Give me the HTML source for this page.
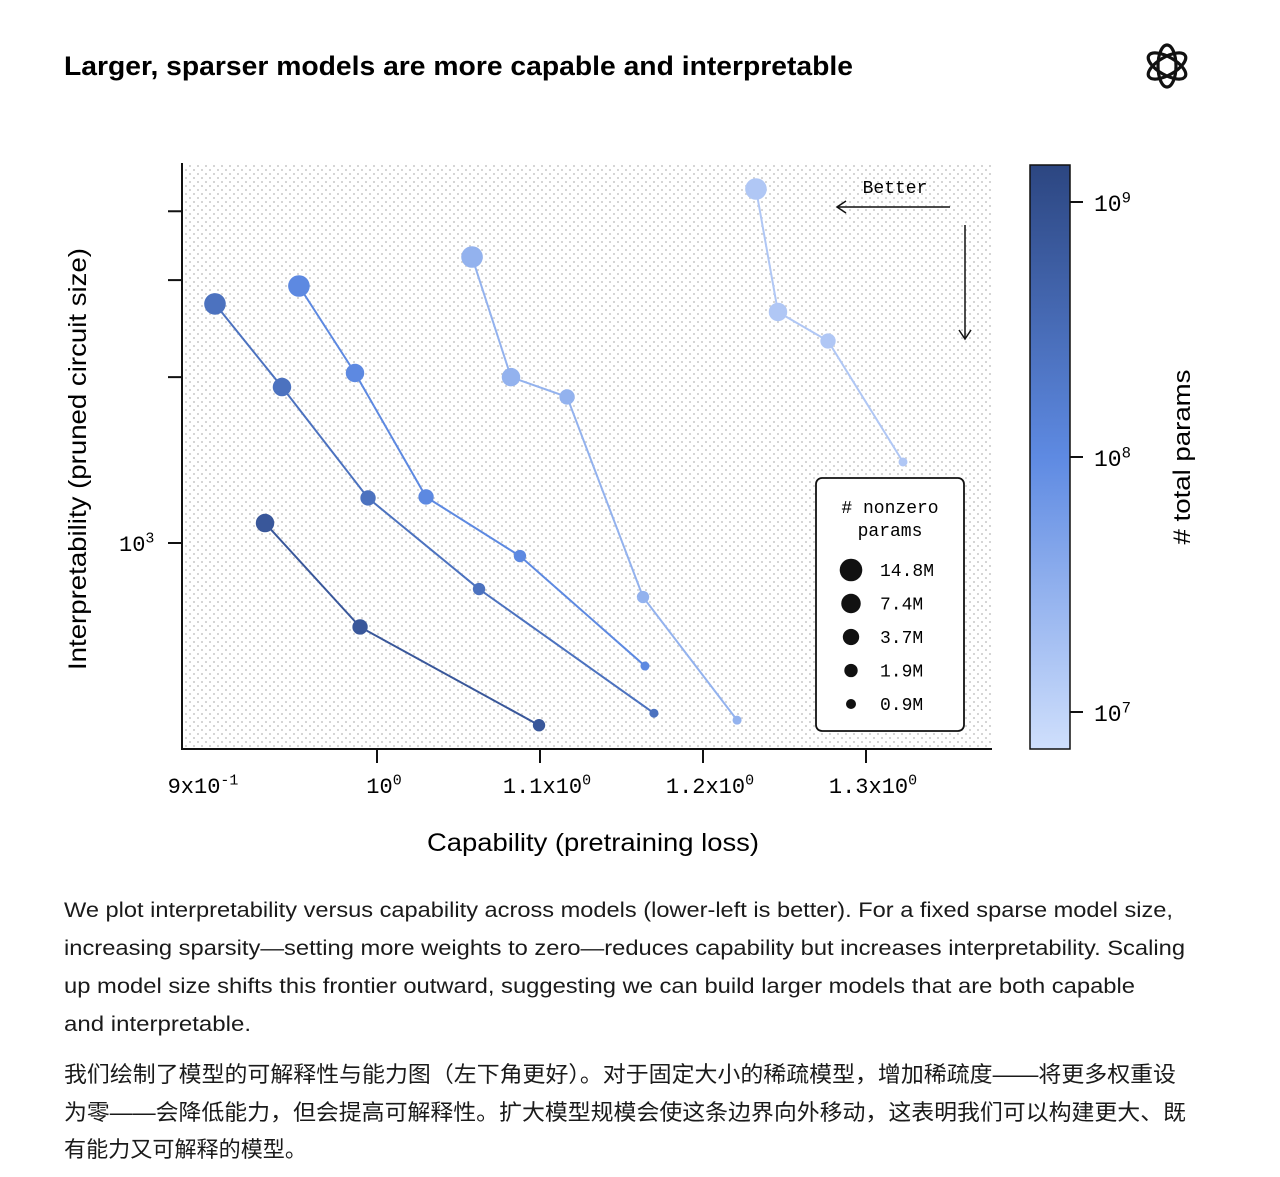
<!DOCTYPE html>
<html><head><meta charset="utf-8"><style>
body{margin:0;background:#fff;width:1280px;height:1177px;overflow:hidden;font-family:"Liberation Sans","Noto Sans CJK SC",sans-serif;color:#111}
svg text{font-family:"Liberation Sans","Noto Sans CJK SC",sans-serif}
</style></head><body>
<svg width="1280" height="1177" style="position:absolute;left:0;top:0">
<text x="64" y="75" font-size="27" font-weight="bold" textLength="789" lengthAdjust="spacingAndGlyphs">Larger, sparser models are more capable and interpretable</text>
<g font-size="21" fill="#1a1a1a">
<text x="64" y="917" textLength="1109" lengthAdjust="spacingAndGlyphs">We plot interpretability versus capability across models (lower-left is better). For a fixed sparse model size,</text>
<text x="64" y="955" textLength="1121" lengthAdjust="spacingAndGlyphs">increasing sparsity—setting more weights to zero—reduces capability but increases interpretability. Scaling</text>
<text x="64" y="993" textLength="1071" lengthAdjust="spacingAndGlyphs">up model size shifts this frontier outward, suggesting we can build larger models that are both capable</text>
<text x="64" y="1031" textLength="187" lengthAdjust="spacingAndGlyphs">and interpretable.</text>
</g>
<g font-size="22" fill="#1a1a1a">
<text x="64" y="1082" textLength="1112" lengthAdjust="spacingAndGlyphs">我们绘制了模型的可解释性与能力图（左下角更好）。对于固定大小的稀疏模型，增加稀疏度——将更多权重设</text>
<text x="64" y="1120" textLength="1122" lengthAdjust="spacingAndGlyphs">为零——会降低能力，但会提高可解释性。扩大模型规模会使这条边界向外移动，这表明我们可以构建更大、既</text>
<text x="64" y="1157" textLength="243" lengthAdjust="spacingAndGlyphs">有能力又可解释的模型。</text>
</g>
</svg>
<svg style="position:absolute;left:1140px;top:40px" width="54" height="52" viewBox="0 0 54 52">
<g fill="none" stroke="#111" stroke-width="3.2">
<ellipse cx="27" cy="26" rx="9" ry="21"/>
<ellipse cx="27" cy="26" rx="9" ry="21" transform="rotate(60 27 26)"/>
<ellipse cx="27" cy="26" rx="9" ry="21" transform="rotate(120 27 26)"/>
</g></svg>
<svg id="chart" width="1280" height="880" style="position:absolute;left:0;top:0">
<defs>
<pattern id="dots" width="8" height="8" patternUnits="userSpaceOnUse">
<circle cx="2" cy="2" r="1" fill="#c8c8c8"/><circle cx="6" cy="6" r="1" fill="#c8c8c8"/></pattern>
<linearGradient id="cb" x1="0" y1="1" x2="0" y2="0">
<stop offset="0" stop-color="#cfdffc"/><stop offset="0.5" stop-color="#5e8ae2"/><stop offset="1" stop-color="#2c4681"/></linearGradient>
</defs>
<rect x="182" y="163" width="810" height="586" fill="url(#dots)"/>
<g id="axes"></g><g id="series"></g>
<g>
<text x="895" y="193" style="font-family:'Liberation Mono',monospace" font-size="18" text-anchor="middle">Better</text>
<line x1="950" y1="207" x2="838" y2="207" stroke="#111" stroke-width="1.5"/>
<path d="M846 201 L837 207 L846 213" fill="none" stroke="#111" stroke-width="1.5"/>
<line x1="965" y1="225" x2="965" y2="338" stroke="#111" stroke-width="1.5"/>
<path d="M959 330 L965 339 L971 330" fill="none" stroke="#111" stroke-width="1.5"/>
</g>
<g>
<rect x="816" y="478" width="148" height="253" rx="6" fill="#fff" stroke="#111" stroke-width="1.8"/>
<text x="890" y="513" style="font-family:'Liberation Mono',monospace" font-size="18" text-anchor="middle"># nonzero</text>
<text x="890" y="536" style="font-family:'Liberation Mono',monospace" font-size="18" text-anchor="middle">params</text>
<g id="legitems"></g>
</g>
<rect x="1030" y="165" width="40" height="584" fill="url(#cb)" stroke="#111" stroke-width="1.5"/>
<g id="cbticks"></g>
<text transform="translate(1190,457) rotate(-90)" font-size="24" text-anchor="middle" textLength="175" lengthAdjust="spacingAndGlyphs"># total params</text>
<text transform="translate(86,459) rotate(-90)" font-size="25" text-anchor="middle" textLength="422" lengthAdjust="spacingAndGlyphs">Interpretability (pruned circuit size)</text>
<text x="593" y="851" font-size="25" text-anchor="middle" textLength="332" lengthAdjust="spacingAndGlyphs">Capability (pretraining loss)</text>
</svg>
<script>
const seriesNames=['A','B','C','D','E'];
const totalParams=[8e8,2.8e8,1.1e8,3e7,1.5e7];
const lossA=[0.9313,0.9896,1.0994], circA=[1087,704,467], nzA=[7.4,3.7,1.9];
const lossB=[0.9006,0.9417,0.9945,1.0626,1.1699], circB=[2716,1919,1207,825,491], nzB=[14.8,7.4,3.7,1.9,0.9];
const lossC=[0.9521,0.9865,1.0301,1.0877,1.1644], circC=[2927,2035,1212,947,598], nzC=[14.8,7.4,3.7,1.9,0.9];
const lossD=[1.0583,1.0822,1.1166,1.1632,1.2209], circD=[3304,2000,1841,798,477], nzD=[14.8,7.4,3.7,1.9,0.9];
const lossE=[1.2325,1.246,1.2767,1.3227], circE=[4390,2626,2326,1403], nzE=[14.8,7.4,3.7,0.9];
const xTicks=[0.9,1.0,1.1,1.2,1.3];
const xTickBase=['9x10','10','1.1x10','1.2x10','1.3x10'];
const xTickExp=['-1','0','0','0','0'];
const yTicks=[1000,2000,3000,4000];
const yTickLabels=['10','','',''];
const legendSizes=[14.8,7.4,3.7,1.9,0.9];
const legendLabels=['14.8M','7.4M','3.7M','1.9M','0.9M'];
const cbTicks=[1e9,1e8,1e7];
const cbExp=['9','8','7'];
const NS='http://www.w3.org/2000/svg';
const xS=v=>540+(v-1.1)*1630;
const yS=v=>543-551*Math.log10(v/1000);
const cbS=v=>457-255*(Math.log10(v)-8);
const rS=m=>4.5+6.3*Math.log2(m/0.9)/Math.log2(14.8/0.9);
function col(tp){const t=Math.max(0,Math.min(1,(Math.log10(tp)-6.85)/(9.2-6.85)));
 const s=[[207,223,252],[94,138,226],[44,70,129]];let a,b,u;
 if(t<0.5){a=s[0];b=s[1];u=t/0.5}else{a=s[1];b=s[2];u=(t-0.5)/0.5}
 return 'rgb('+a.map((c,i)=>Math.round(c+(b[i]-c)*u)).join(',')+')';}
function mk(tag,at,par){const e=document.createElementNS(NS,tag);for(const k in at)e.setAttribute(k,at[k]);par.appendChild(e);return e;}
function supText(par,x,y,base,exp,size,anchor){
 const t=mk('text',{x:x,y:y,'font-size':size,'text-anchor':anchor,style:"font-family:'Liberation Mono',monospace"},par);
 const a=mk('tspan',{},t);a.textContent=base;
 const b=mk('tspan',{'font-size':size*0.68,dy:-size*0.38},t);b.textContent=exp;
 return t;}
const ax=document.getElementById('axes');
const yl=mk('line',{x1:182,y1:163,x2:182,y2:749,stroke:'#111','stroke-width':2},ax);


const xl=mk('line',{x1:181,y1:749,x2:992,y2:749,stroke:'#111','stroke-width':2},ax);


xTicks.forEach((v,i)=>{const x=xS(v);
 if(i>0){const tk=mk('line',{x1:x,y1:749,x2:x,y2:763,stroke:'#111','stroke-width':2},ax);
 
 }
 const t=supText(ax,i>0?x+7:x-11,793,xTickBase[i],xTickExp[i],22,'middle');
 
 });
yTicks.forEach((v,i)=>{const y=yS(v);
 const tk=mk('line',{x1:168,y1:y,x2:182,y2:y,stroke:'#111','stroke-width':2},ax);
 
 
 if(yTickLabels[i]){const t=supText(ax,119,y+8,yTickLabels[i],'3',22,'start');
 
 }});
const sg=document.getElementById('series');
const all=[[lossA,circA,nzA],[lossB,circB,nzB],[lossC,circC,nzC],[lossD,circD,nzD],[lossE,circE,nzE]];
all.forEach((s,k)=>{const c=col(totalParams[k]);
 const g=mk('g',{},sg);
 
 
 const pts=s[0].map((v,i)=>xS(v)+','+yS(s[1][i])).join(' ');
 const pl=mk('polyline',{points:pts,fill:'none',stroke:c,'stroke-width':2},g);
 
 
 s[0].forEach((v,i)=>{const p=mk('circle',{cx:xS(v),cy:yS(s[1][i]),r:rS(s[2][i]),fill:c},g);
  
  });});
const lg=document.getElementById('legitems');
legendSizes.forEach((m,i)=>{const y=570+i*33.5;
 const c=mk('circle',{cx:851,cy:y,r:rS(m)+0.5,fill:'#111'},lg);
 
 
 const t=mk('text',{x:880,y:y+6,style:"font-family:'Liberation Mono',monospace",'font-size':18},lg);t.textContent=legendLabels[i];
 
 });
const cg=document.getElementById('cbticks');
cbTicks.forEach((v,i)=>{const y=cbS(v);
 const tk=mk('line',{x1:1070,y1:y,x2:1083,y2:y,stroke:'#111','stroke-width':2},cg);
 
 
 const t=supText(cg,1094,y+9,'10',cbExp[i],23,'start');
 
 });
</script>
</body></html>
